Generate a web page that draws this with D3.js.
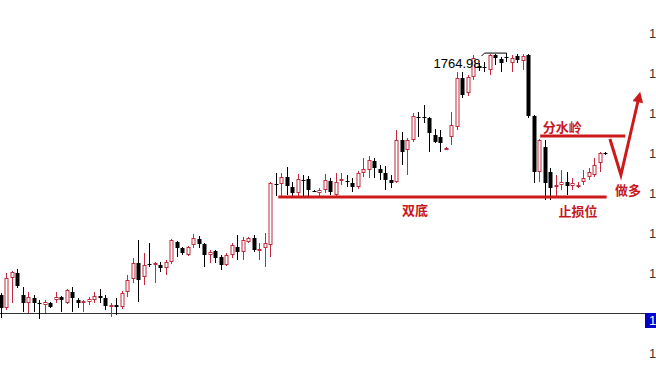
<!DOCTYPE html>
<meta charset="utf-8">
<head>
<script src="https://d3js.org/d3.v7.min.js"></script>
<style>
  body { margin: 0; background: #fff; }
  svg { display: block; }
  .cn { font-family: "Noto Sans CJK SC", sans-serif; font-weight: bold; font-size: 13px; fill: #c8161d; }
</style>
</head>
<body>
<svg id="chart"></svg>
<script>
// one entry per bar, left to right
var opens  = [1704.5,1701.25,1708.75,1710.0,1704.5,1702.5,1703.75,1702.5,1702.0,1702.5,
              1703.25,1704.0,1702.5,1705.25,1703.25,1702.5,1702.75,1703.25,1704.25,1703.75,
              1701.5,1702.0,1701.5,1705.25,1708.5,1712.5,1709.0,1712.25,1712.25,1712.0,
              1711.25,1712.75,1717.75,1716.25,1714.5,1717.0,1718.5,1717.25,1714.5,1715.5,
              1714.0,1712.0,1714.5,1716.5,1715.25,1717.75,1718.75,1715.75,1716.25,1717.0,
              1732.25,1732.25,1734.0,1731.5,1730.0,1733.25,1733.5,1730.5,1730.0,1730.75,
              1733.0,1729.5,1733.0,1733.0,1732.5,1731.5,1735.0,1735.75,1738.0,1736.0,
              1735.0,1733.25,1732.75,1743.25,1740.75,1743.25,1749.0,1749.0,1748.75,1744.5,
              1744.0,1741.0,1744.0,1746.5,1758.75,1755.0,1759.0,1761.75,1761.5,1760.75,
              1764.5,1763.5,1764.0,1762.5,1764.25,1763.0,1764.5,1749.25,1735.25,1741.5,
              1735.25,1731.5,1732.0,1732.75,1731.75,1731.75,1732.75,1734.0,1734.5,1737.5,
              1740.0];
var highs  = [1705.0,1710.0,1710.5,1711.0,1706.5,1705.25,1704.5,1703.25,1703.25,1702.75,
              1705.25,1704.25,1706.0,1706.5,1703.75,1703.25,1704.0,1705.25,1706.0,1704.5,
              1702.5,1703.75,1705.5,1709.5,1713.75,1718.25,1715.0,1717.5,1712.75,1712.75,
              1713.25,1718.5,1718.0,1716.5,1716.75,1719.75,1719.25,1717.5,1715.75,1715.75,
              1714.5,1715.0,1717.5,1719.5,1719.0,1719.0,1719.5,1717.5,1720.0,1732.75,
              1735.0,1735.0,1736.5,1732.75,1734.75,1734.5,1734.25,1730.75,1731.25,1734.75,
              1733.75,1735.0,1735.0,1734.5,1733.75,1735.5,1738.75,1739.25,1738.75,1737.0,
              1736.75,1734.5,1745.75,1745.25,1743.75,1750.0,1750.25,1752.0,1749.0,1746.0,
              1745.75,1741.5,1750.25,1760.25,1760.25,1759.5,1764.5,1762.5,1762.75,1764.75,
              1764.75,1764.0,1764.98,1764.5,1764.75,1764.75,1764.75,1749.5,1743.5,1743.25,
              1736.25,1734.5,1735.75,1735.25,1733.75,1732.75,1735.75,1736.25,1738.75,1740.25,
              1740.25];
var lows   = [1698.75,1700.75,1702.5,1706.25,1700.25,1700.0,1700.25,1698.5,1700.0,1701.25,
              1702.5,1700.25,1702.25,1700.25,1701.25,1700.25,1702.0,1702.5,1702.5,1700.75,
              1699.0,1699.5,1701.0,1704.0,1707.5,1702.75,1707.0,1711.5,1707.5,1710.25,
              1709.5,1712.25,1714.0,1714.5,1714.25,1716.25,1716.25,1711.5,1712.5,1712.5,
              1710.75,1711.75,1713.75,1713.25,1713.25,1717.5,1715.25,1713.25,1711.5,1714.0,
              1729.25,1729.25,1729.5,1729.25,1729.25,1729.25,1729.25,1730.25,1729.25,1730.0,
              1729.5,1729.0,1732.0,1731.5,1730.25,1731.0,1734.0,1733.75,1733.75,1733.25,
              1730.75,1731.25,1732.5,1737.0,1734.5,1742.75,1744.0,1747.5,1740.25,1742.5,
              1740.25,1740.75,1742.0,1745.75,1753.75,1754.25,1758.25,1760.5,1760.25,1759.5,
              1762.0,1760.25,1762.75,1760.25,1762.5,1760.75,1748.75,1732.5,1732.75,1728.25,
              1728.25,1729.0,1730.75,1729.5,1730.75,1731.25,1732.0,1733.25,1734.0,1735.25,
              1739.5];
var closes = [1701.25,1708.75,1710.25,1706.75,1702.5,1704.0,1702.5,1702.25,1702.75,1701.5,
              1704.0,1703.25,1705.75,1703.75,1702.5,1703.0,1703.5,1704.25,1703.75,1701.75,
              1702.0,1701.5,1705.0,1708.25,1712.5,1708.25,1712.0,1712.0,1712.5,1711.25,
              1712.75,1718.25,1716.25,1715.0,1716.5,1718.75,1717.25,1714.5,1715.25,1713.75,
              1712.0,1714.5,1717.0,1715.25,1718.25,1718.75,1715.75,1716.0,1717.5,1732.5,
              1732.0,1734.0,1731.75,1730.0,1733.5,1733.0,1730.75,1730.45,1730.75,1733.25,
              1730.25,1732.75,1733.5,1732.75,1731.5,1735.0,1736.0,1738.25,1736.25,1735.0,
              1733.25,1732.5,1743.25,1740.25,1743.25,1749.25,1748.75,1748.75,1745.0,1742.75,
              1742.5,1741.25,1747.0,1758.75,1754.5,1759.0,1763.75,1761.25,1761.25,1764.5,
              1763.75,1762.5,1763.75,1763.75,1763.25,1764.25,1749.25,1735.25,1743.25,1732.5,
              1731.25,1732.0,1732.75,1731.75,1732.5,1732.0,1733.75,1735.25,1737.0,1740.0,
              1739.75];

var axisTicks = [1770, 1760, 1750, 1740, 1730, 1720, 1710, 1690];
var lastPrice = 1700.00;
var highLabel = 1764.98;
var supportLevel = 1729.0;     // 双底 / 止损位
var watershedLevel = 1744.25;  // 分水岭
// planned path: pull back, then up
var planIdx   = [110.9, 112.9, 116.1];
var planPrice = [1743.5, 1734.5, 1753.5];

var W = 656, H = 366;
var svg = d3.select("#chart").attr("width", W).attr("height", H);

var x = d3.scaleLinear().domain([0, opens.length - 1]).range([1, 605]);
var y = d3.scaleLinear().domain([1690, 1770]).range([353, 33]);

var RED = "#c42a3c", ANN = "#cc1a1a";
// the axis only has room for the leading digit
var shortLabel = d => String(Math.floor(d)).charAt(0);

// last price line
svg.append("line")
  .attr("x1", 0).attr("x2", 645)
  .attr("y1", Math.round(y(lastPrice)) + 0.5).attr("y2", Math.round(y(lastPrice)) + 0.5)
  .attr("stroke", "#333").attr("stroke-width", 1);

// candles
var bars = svg.append("g").selectAll("g")
  .data(d3.range(opens.length))
  .join("g");

bars.append("line")
  .attr("x1", i => Math.round(x(i)) + 0.5).attr("x2", i => Math.round(x(i)) + 0.5)
  .attr("y1", i => y(highs[i])).attr("y2", i => y(lows[i]))
  .attr("stroke", i => closes[i] >= opens[i] ? RED : "#000");

bars.append("rect")
  .attr("x", i => closes[i] >= opens[i] ? Math.round(x(i)) - 1 : Math.round(x(i)) - 1.5)
  .attr("width", i => closes[i] >= opens[i] ? 3 : 4)
  .attr("y", i => closes[i] >= opens[i] ? y(closes[i]) + 0.5 : y(opens[i]))
  .attr("height", i => Math.max(1, Math.abs(y(opens[i]) - y(closes[i])) - (closes[i] >= opens[i] ? 1 : 0)))
  .attr("fill", i => closes[i] >= opens[i] ? "#fff" : "#000")
  .attr("stroke", i => closes[i] >= opens[i] ? RED : "none")
  .attr("stroke-width", 1);

// high marker
var hiIdx = highs.indexOf(highLabel);
var hx = Math.round(x(hiIdx)) + 0.5, hy = y(highLabel);
svg.append("path")
  .attr("d", `M${hx - 25},${hy + 3} L${hx - 22},${hy} L${hx},${hy} L${hx},${hy + 5}`)
  .attr("fill", "none").attr("stroke", "#000").attr("stroke-width", 1);
svg.append("text")
  .attr("x", hx - 26).attr("y", hy + 15)
  .attr("text-anchor", "end")
  .style("font-family", "Liberation Sans, Arial, sans-serif").style("font-size", "13px")
  .text(d3.format(".2f")(highLabel));

// support line
svg.append("line")
  .attr("x1", x(50.5)).attr("x2", x(110.3))
  .attr("y1", y(supportLevel)).attr("y2", y(supportLevel))
  .attr("stroke", ANN).attr("stroke-width", 3);
svg.append("text").attr("class", "cn")
  .attr("x", x(75.4)).attr("y", y(supportLevel) + 18).attr("text-anchor", "middle").text("双底");
svg.append("text").attr("class", "cn")
  .attr("x", x(105.1)).attr("y", y(supportLevel) + 19).attr("text-anchor", "middle").text("止损位");

// watershed line
svg.append("line")
  .attr("x1", x(98.2)).attr("x2", x(113.7))
  .attr("y1", y(watershedLevel)).attr("y2", y(watershedLevel))
  .attr("stroke", ANN).attr("stroke-width", 3);
svg.append("text").attr("class", "cn")
  .attr("x", x(102.2)).attr("y", y(watershedLevel) - 4).attr("text-anchor", "middle").text("分水岭");

// V arrow
svg.append("defs").append("marker")
  .attr("id", "head").attr("viewBox", "0 0 10 10")
  .attr("refX", 3).attr("refY", 5)
  .attr("markerWidth", 4.5).attr("markerHeight", 3.6)
  .attr("orient", "auto")
  .append("path").attr("d", "M0,0 L10,5 L0,10 Z").attr("fill", ANN);

var line = d3.line().x(d => x(d[0])).y(d => y(d[1]));
svg.append("path")
  .attr("d", line(d3.zip(planIdx, planPrice)))
  .attr("fill", "none").attr("stroke", ANN).attr("stroke-width", 3)
  .attr("marker-end", "url(#head)");
svg.append("text").attr("class", "cn")
  .attr("x", 628).attr("y", 195).attr("text-anchor", "middle").text("做多");

// right axis
var axis = svg.append("g")
  .attr("transform", "translate(645,0)")
  .call(d3.axisRight(y).tickValues(axisTicks).tickSize(0).tickPadding(4).tickFormat(shortLabel));
axis.select(".domain").remove();
axis.selectAll("text")
  .style("font-family", "Liberation Sans, Arial, sans-serif").style("font-size", "13px").attr("fill", "#333");

// last price tag
svg.append("rect")
  .attr("x", 645).attr("y", y(lastPrice)).attr("width", 11).attr("height", 15)
  .attr("fill", "#0000cc");
svg.append("text")
  .attr("x", 649).attr("y", y(lastPrice) + 12)
  .style("font-family", "Liberation Sans, Arial, sans-serif").style("font-size", "13px")
  .attr("fill", "#fff")
  .text(shortLabel(lastPrice));
</script>
</body>
